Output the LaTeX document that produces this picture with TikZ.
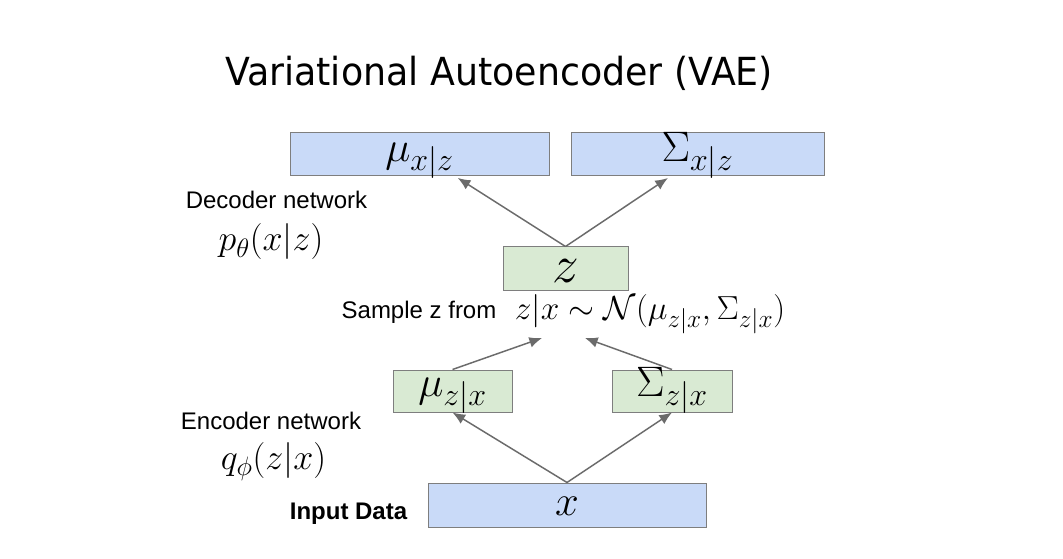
\documentclass[tikz,border=0pt]{standalone}
\usepackage{fix-cm}
\usepackage{amsmath, amssymb}
\usepackage{fontspec}
\setmainfont{Liberation Sans}
\newfontfamily\titlefont[FakeStretch=0.94]{DejaVu Sans}
\usetikzlibrary{arrows.meta}
\usepackage{xcolor}
\definecolor{vaeblue}{HTML}{C9DAF8}
\definecolor{vaegreen}{HTML}{D9EAD3}
\definecolor{edgegray}{HTML}{7E7E7E}
\definecolor{arrowgray}{HTML}{6B6B6B}
\DeclareMathSizes{32}{32}{24}{18}
\DeclareMathSizes{40}{40}{28}{20}
\DeclareMathSizes{27}{27}{20}{15}
\DeclareMathSizes{25}{25}{19}{14}

\begin{document}
\begin{tikzpicture}[x=0.75pt, y=-0.75pt,
  box/.style={draw=edgegray, line width=0.75pt, inner sep=0pt, text height=18pt, text depth=10pt, align=center, font=\fontsize{32}{38}\selectfont},
  bluebox/.style={box, fill=vaeblue},
  greenbox/.style={box, fill=vaegreen},
  arrow/.style={-{Latex[length=9.5pt, width=8pt]}, line width=1.1pt, color=arrowgray},
  label/.style={inner sep=0pt, anchor=base, font=\fontsize{18}{21}\selectfont},
  mathlabel/.style={inner sep=0pt, anchor=base, font=\fontsize{27}{32}\selectfont}
]

% Page
\fill[white] (0,0) rectangle (1063,559);

% Title
\node[inner sep=0pt, anchor=base, font=\titlefont\fontsize{29}{35}\selectfont] (title) at (499,86) {Variational Autoencoder (VAE)};

% Decoder outputs (top)
\node[bluebox, minimum width=194.25pt, minimum height=32.25pt, text height=19pt, text depth=9pt] (muxz) at (419.5,154.5) {$\mu_{x|z}$};
\node[bluebox, minimum width=189.75pt, minimum height=32.25pt, text height=19pt, text depth=9pt] (sigxz) at (697.5,154.5) {$\Sigma_{x|z}$};

% Latent sample
\node[greenbox, minimum width=93.75pt, minimum height=33pt, text height=20pt, text depth=0pt, font=\fontsize{40}{46}\selectfont] (z) at (565.5,269) {$z$};

% Encoder outputs
\node[greenbox, minimum width=89.25pt, minimum height=31.5pt] (muzx) at (452.5,391) {$\mu_{z|x}$};
\node[greenbox, minimum width=90pt, minimum height=31.5pt] (sigzx) at (672,391) {$\Sigma_{z|x}$};

% Input
\node[bluebox, minimum width=208.5pt, minimum height=33pt, text height=17pt, text depth=2pt] (x) at (567,505) {$x$};

% Side labels
\node[label] (declabel) at (276.5,209) {Decoder network};
\node[mathlabel] (decmath) at (271,251) {$p_\theta(x|z)$};
\node[label] (samplelabel) at (419,319) {Sample z from};
\node[mathlabel, font=\fontsize{25}{30}\selectfont] (sampling) at (650,320) {$z|x \sim \mathcal{N}(\mu_{z|x}, \Sigma_{z|x})$};
\node[label] (enclabel) at (271,429) {Encoder network};
\node[mathlabel] (encmath) at (273.5,469) {$q_\phi(z|x)$};
\node[label, font=\bfseries\fontsize{18}{21}\selectfont] (inputlabel) at (348.5,519) {Input Data};

% Arrow ends under the sampling formula
\coordinate (samplein1) at (542,338);
\coordinate (samplein2) at (585,338);

% Arrows
\draw[arrow] (x.north) -- (muzx.south);
\draw[arrow] (x.north) -- (sigzx.south);
\draw[arrow] (muzx.north) -- (samplein1);
\draw[arrow] (sigzx.north) -- (samplein2);
\draw[arrow, shorten >=2pt] (z.north) -- ([xshift=27pt]muxz.south);
\draw[arrow, shorten >=2pt] (z.north) -- ([xshift=-20.5pt]sigxz.south);

\end{tikzpicture}
\end{document}
